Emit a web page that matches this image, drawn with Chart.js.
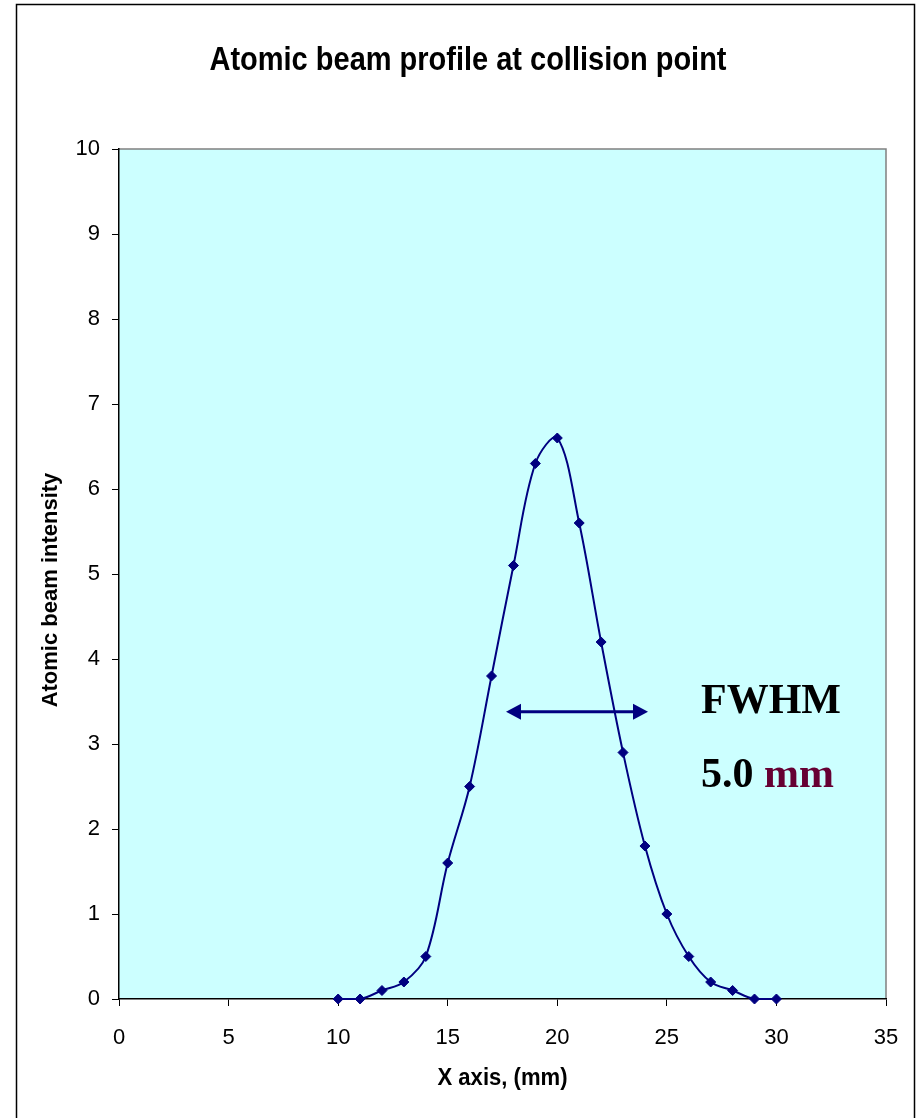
<!DOCTYPE html>
<html>
<head>
<meta charset="utf-8">
<script src="https://cdn.jsdelivr.net/npm/chart.js@4.4.1/dist/chart.umd.min.js"></script>
<style>
  html, body { margin: 0; padding: 0; background: #ffffff; }
  #wrap { width: 919px; height: 1118px; position: relative; }
</style>
</head>
<body>
<div id="wrap"><canvas id="beam" width="919" height="1118"></canvas></div>
<script>
// Measured beam profile: position across the beam (mm) and intensity
const positions = [10, 11, 12, 13, 14, 15, 16, 17, 18, 19, 20, 21, 22, 23, 24, 25, 26, 27, 28, 29, 30];
const intensity = [0, 0, 0.1, 0.2, 0.5, 1.6, 2.5, 3.8, 5.1, 6.3, 6.6, 5.6, 4.2, 2.9, 1.8, 1.0, 0.5, 0.2, 0.1, 0, 0];

// Axis ticks
const xTicks = [0, 5, 10, 15, 20, 25, 30, 35];
const yTicks = [0, 1, 2, 3, 4, 5, 6, 7, 8, 9, 10];

// Texts
const chartTitle = 'Atomic beam profile at collision point';
const xTitle = 'X axis, (mm)';
const yTitle = 'Atomic beam intensity';
const fwhmLabel = 'FWHM';
const fwhmValue = '5.0';
const fwhmUnit = 'mm';

// Double arrow marking the width (ends in mm, height in intensity units)
const fwhmArrowEnds = [17.66, 24.14];
const fwhmArrowLevel = 3.38;

const NAVY = '#000080';

const points = positions.map((x, i) => ({ x: x, y: intensity[i] }));

function drawArrowHead(ctx, x, y, dir) {
  ctx.beginPath();
  ctx.moveTo(x, y);
  ctx.lineTo(x - dir * 15, y - 8);
  ctx.lineTo(x - dir * 15, y + 8);
  ctx.closePath();
  ctx.fill();
}

// Draws text centred on (cx, y), squeezed horizontally to a given width
function fittedText(ctx, text, cx, y, width) {
  const w = ctx.measureText(text).width;
  ctx.save();
  ctx.translate(cx, y);
  ctx.scale(width / w, 1);
  ctx.fillText(text, 0, 0);
  ctx.restore();
}

const decorations = {
  id: 'decorations',
  beforeDraw(chart) {
    const { ctx, chartArea: a } = chart;
    ctx.save();
    ctx.fillStyle = '#CCFFFF';
    ctx.fillRect(a.left, a.top, a.right - a.left, a.bottom - a.top);
    ctx.strokeStyle = '#808080';
    ctx.lineWidth = 1.5;
    ctx.beginPath();
    ctx.moveTo(a.left, a.top);
    ctx.lineTo(a.right, a.top);
    ctx.lineTo(a.right, a.bottom);
    ctx.stroke();
    ctx.restore();
  },
  afterDraw(chart) {
    const { ctx, chartArea: a, scales } = chart;
    const xs = scales.x, ys = scales.y;
    ctx.save();

    // outer frame
    ctx.strokeStyle = '#000';
    ctx.lineWidth = 1.5;
    ctx.strokeRect(16.5, 4.5, 898, 1130);

    // main title
    ctx.fillStyle = '#000';
    ctx.font = 'bold 33px "Liberation Sans", Arial, sans-serif';
    ctx.textAlign = 'center';
    ctx.textBaseline = 'alphabetic';
    fittedText(ctx, chartTitle, 468, 70, 517);

    // axis titles
    ctx.font = 'bold 23px "Liberation Sans", Arial, sans-serif';
    ctx.textBaseline = 'middle';
    fittedText(ctx, xTitle, (a.left + a.right) / 2, 1079, 130);
    ctx.font = 'bold 22px "Liberation Sans", Arial, sans-serif';
    ctx.save();
    ctx.translate(51, 590);
    ctx.rotate(-Math.PI / 2);
    ctx.fillText(yTitle, 0, 0);
    ctx.restore();

    // FWHM arrow
    const x1 = xs.getPixelForValue(fwhmArrowEnds[0]);
    const x2 = xs.getPixelForValue(fwhmArrowEnds[1]);
    const yl = ys.getPixelForValue(fwhmArrowLevel);
    ctx.strokeStyle = NAVY;
    ctx.fillStyle = NAVY;
    ctx.lineWidth = 3;
    ctx.beginPath();
    ctx.moveTo(x1 + 10, yl);
    ctx.lineTo(x2 - 10, yl);
    ctx.stroke();
    drawArrowHead(ctx, x1, yl, -1);
    drawArrowHead(ctx, x2, yl, 1);

    // FWHM text
    ctx.textAlign = 'left';
    ctx.textBaseline = 'alphabetic';
    ctx.font = 'bold 42px "Liberation Serif", "Times New Roman", serif';
    ctx.fillStyle = '#000';
    const tx = 701;
    ctx.fillText(fwhmLabel, tx, 713);
    const valueText = fwhmValue + ' ';
    ctx.fillText(valueText, tx, 787);
    const vw = ctx.measureText(valueText).width;
    ctx.fillStyle = '#660033';
    ctx.fillText(fwhmUnit, tx + vw, 787);

    ctx.restore();
  }
};

new Chart(document.getElementById('beam'), {
  type: 'line',
  data: {
    datasets: [{
      data: points,
      borderColor: NAVY,
      backgroundColor: NAVY,
      borderWidth: 2,
      tension: 0.35,
      pointStyle: 'rectRot',
      pointRadius: 5,
      pointBorderWidth: 1,
      pointBackgroundColor: NAVY,
      pointBorderColor: NAVY,
      clip: false,
      fill: false
    }]
  },
  options: {
    responsive: false,
    animation: false,
    devicePixelRatio: 1,
    layout: { padding: { top: 149, right: 33, bottom: 0, left: 0 } },
    plugins: {
      legend: { display: false },
      title: { display: false },
      tooltip: { enabled: false }
    },
    scales: {
      x: {
        type: 'linear',
        min: 0,
        max: 35,
        afterFit(scale) { scale.height = 119; },
        afterBuildTicks(scale) { scale.ticks = xTicks.map(v => ({ value: v })); },
        ticks: {
          color: '#000',
          font: { family: '"Liberation Sans", Arial, sans-serif', size: 22 },
          padding: 19,
          maxRotation: 0,
          autoSkip: false
        },
        grid: {
          display: true,
          drawOnChartArea: false,
          drawTicks: true,
          tickLength: 7,
          color: '#000',
          lineWidth: 1
        },
        border: { display: true, color: '#000', width: 1.5 }
      },
      y: {
        type: 'linear',
        min: 0,
        max: 10,
        afterFit(scale) { scale.width = 119; },
        afterBuildTicks(scale) { scale.ticks = yTicks.map(v => ({ value: v })); },
        ticks: {
          color: '#000',
          font: { family: '"Liberation Sans", Arial, sans-serif', size: 22 },
          padding: 12,
          autoSkip: false
        },
        grid: {
          display: true,
          drawOnChartArea: false,
          drawTicks: true,
          tickLength: 7,
          color: '#000',
          lineWidth: 1
        },
        border: { display: true, color: '#000', width: 1.5 }
      }
    }
  },
  plugins: [decorations]
});
</script>
</body>
</html>
